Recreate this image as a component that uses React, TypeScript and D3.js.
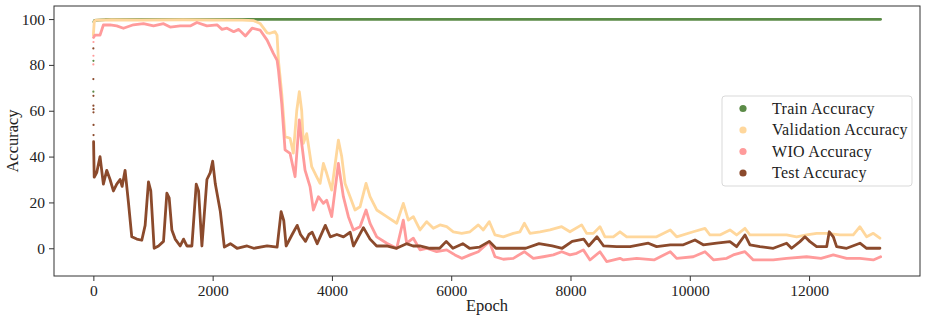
import React from "react";
import * as d3 from "d3";

// epochs shown on the axes
const xTicks = [0, 2000, 4000, 6000, 8000, 10000, 12000];
const yTicks = [0, 20, 40, 60, 80, 100];

const seriesNames = ["Train Accuracy", "Validation Accuracy", "WIO Accuracy", "Test Accuracy"];
const seriesColors = ["#5b8b47", "#ffd79c", "#ff9b9b", "#8b4a2c"];

// [epoch, accuracy]
const trainAcc: [number, number][] = [
  [8, 98.8], [20, 99.4], [200, 99.8], [1000, 99.9], [4000, 99.9], [13200, 99.9],
];

const validationAcc: [number, number][] = [
  [0, 93], [15, 99], [40, 99.5], [300, 99.7], [800, 99.6], [1500, 99.7], [2000, 99.6],
  [2500, 99.5], [2689, 99.3], [2795, 98.1], [2913, 94], [2962, 93.8], [3046, 94.5],
  [3080, 93], [3103, 82], [3158, 67.6], [3214, 48.7], [3298, 48], [3353, 41.5], [3410, 60],
  [3453, 68.3], [3493, 60], [3521, 45.8], [3577, 50], [3661, 35.6], [3745, 31.2],
  [3801, 28.3], [3857, 37], [3912, 32.7], [3996, 25.4], [4108, 47.2], [4164, 40],
  [4220, 28.3], [4304, 22.5], [4387, 16.7], [4471, 18.1], [4572, 28.3], [4639, 22.5],
  [4751, 16.7], [4919, 13.8], [5086, 10.9], [5197, 19.6], [5281, 12.3], [5365, 13.8],
  [5477, 8], [5589, 11.6], [5700, 8.7], [5812, 10.2], [5924, 9.4], [6035, 7.2], [6176, 6.5],
  [6315, 7.2], [6454, 10.2], [6538, 8], [6639, 11.6], [6734, 5.8], [6874, 5], [7041, 6.5],
  [7153, 7.2], [7226, 10.9], [7321, 6.5], [7489, 7.2], [7656, 8], [7852, 9.4], [7991, 7.2],
  [8187, 10.2], [8271, 6.5], [8383, 6.5], [8494, 9.4], [8578, 5], [8718, 5], [8830, 7.2],
  [8942, 5], [9221, 5], [9444, 5], [9673, 8], [9780, 5], [10058, 7.2], [10255, 8.7],
  [10338, 5.8], [10505, 5.8], [10673, 8], [10785, 5.8], [10925, 8.7], [11009, 5.8],
  [11344, 5.8], [11623, 5.8], [11791, 5], [11959, 5.8], [12127, 6.5], [12295, 6.5],
  [12518, 5.8], [12741, 5.8], [12853, 9.4], [12965, 5], [13077, 6.5], [13188, 4.4],
];

const wioAcc: [number, number][] = [
  [3, 92], [28, 93], [112, 93], [168, 97.4], [280, 97.5], [392, 97], [504, 96], [672, 97.5],
  [840, 98], [1008, 97], [1176, 98], [1288, 96.5], [1456, 97], [1624, 97], [1736, 98.5],
  [1904, 97], [2073, 97.5], [2157, 95.5], [2241, 96], [2353, 94.5], [2437, 95.5],
  [2549, 92.6], [2661, 96], [2795, 95.2], [2913, 90.8], [3018, 85], [3081, 82], [3103, 77.8],
  [3158, 63.2], [3214, 42.9], [3298, 41.4], [3382, 31.2], [3453, 56], [3493, 45.8],
  [3549, 34.1], [3633, 26.9], [3689, 16.7], [3773, 22.5], [3857, 19.6], [3912, 21],
  [3996, 13.8], [4108, 37], [4192, 22.5], [4276, 13.8], [4360, 8], [4471, 9.4], [4572, 16.7],
  [4639, 10.9], [4751, 5], [4919, 2.2], [5086, 0], [5197, 12.3], [5253, 2.2], [5365, 4.4],
  [5477, -0.7], [5589, 0], [5756, -1.5], [5924, -0.7], [6063, -2.9], [6176, -4.4],
  [6315, -2.9], [6454, -1.5], [6639, 2.9], [6734, -3.7], [6874, -4.8], [7041, -4.4],
  [7226, -1.5], [7377, -4.4], [7544, -3.7], [7712, -2.9], [7852, -1.5], [7991, -2.9],
  [8103, -2.2], [8215, -0.7], [8327, -5.1], [8494, -1.5], [8606, -5.8], [8830, -4.4],
  [8886, -5.1], [9110, -4.4], [9400, -5.1], [9673, -1.5], [9780, -4.4], [10058, -3.7],
  [10255, -1.5], [10400, -5.1], [10619, -4.4], [10729, -2.9], [10925, -1.5], [11065, -5.1],
  [11400, -5.1], [11623, -4.4], [11959, -3.7], [12200, -4.4], [12406, -2.9], [12630, -4.4],
  [12853, -4.4], [13077, -5.1], [13200, -3.7],
];

const testAcc: [number, number][] = [
  [4, 46.5], [6, 43], [8, 40], [14, 31], [56, 33], [112, 40], [168, 28], [224, 34], [280, 30],
  [336, 25], [392, 28], [448, 30], [482, 27], [532, 34], [588, 20], [644, 5], [728, 4],
  [812, 3.5], [868, 10], [924, 29], [963, 25], [1019, 0], [1092, 1], [1176, 3], [1232, 24],
  [1271, 22], [1316, 8], [1372, 4], [1456, 1], [1512, 4], [1568, 1], [1652, 1], [1725, 28],
  [1764, 25], [1820, 1], [1904, 30], [1960, 33], [2000, 38], [2045, 28], [2129, 16],
  [2196, 0.5], [2297, 2], [2409, 0], [2577, 1], [2689, 0], [2913, 1], [3081, 0.5],
  [3148, 16], [3193, 12], [3232, 1], [3333, 6], [3417, 10], [3473, 6], [3557, 3], [3613, 6],
  [3669, 7], [3753, 2], [3889, 10], [3972, 5], [4083, 6], [4194, 5], [4306, 7], [4361, 1],
  [4528, 9], [4639, 4], [4750, 1], [4917, 1], [5083, 0], [5250, 2], [5361, 1], [5472, 1],
  [5639, 0], [5806, 0], [5917, 3], [6028, 0], [6194, 2], [6306, 0], [6472, 0.5], [6639, 3],
  [6750, 0], [6917, 0], [7250, 0], [7472, 2], [7694, 1], [7861, 0], [8028, 3], [8222, 4],
  [8306, 1], [8444, 5], [8556, 1], [8774, 0.7], [9000, 0.7], [9305, 2.2], [9444, 0.7],
  [9673, 1.5], [9892, 1.5], [10087, 3.6], [10226, 1.5], [10450, 2.2], [10673, 2.9],
  [10785, 0.7], [10925, 5.8], [11009, 1.5], [11176, 0.7], [11400, 0], [11623, 2.2],
  [11707, 0], [11847, 2.9], [11931, 5], [12015, 2.9], [12127, 0.7], [12295, 0.7],
  [12339, 7.2], [12406, 5], [12462, 0.7], [12630, 0], [12853, 2.2], [12965, 0], [13188, 0],
];

// first few epochs, scattered dots before the curves settle
const trainWarmup: [number, number][] = [[0, 68.3], [1, 81.8]];
const wioWarmup: [number, number][] = [[0, 80.2], [1, 84], [2, 90]];
const testWarmup: [number, number][] = [
  [0, 87.2], [0, 73.8], [1, 66.5], [1, 62.2], [2, 60.7], [2, 59.3], [3, 53.8], [3, 49.4],
];

const width = 927;
const height = 321;
const margin = { top: 6, right: 7, bottom: 45, left: 54 };
const font = "'Liberation Serif', 'DejaVu Serif', serif";

export default function App() {
  const ref = React.useRef<SVGSVGElement>(null);

  React.useEffect(() => {
    const svg = d3.select(ref.current);
    svg.selectAll("*").remove();

    const x = d3.scaleLinear([-660, 13860], [margin.left, width - margin.right]);
    const y = d3.scaleLinear([-12.1, 105.7], [height - margin.bottom, margin.top]);

    const line = d3.line<[number, number]>()
      .x(d => x(d[0]))
      .y(d => y(d[1]));

    const plot = svg.append("g");
    const all = [trainAcc, validationAcc, wioAcc, testAcc];
    all.forEach((s, i) => {
      plot.append("path")
        .attr("d", line(s))
        .attr("fill", "none")
        .attr("stroke", seriesColors[i])
        .attr("stroke-width", 2.8)
        .attr("stroke-linejoin", "round")
        .attr("stroke-linecap", "round");
    });

    const dots: [[number, number][], string][] = [
      [trainWarmup, seriesColors[0]],
      [wioWarmup, seriesColors[2]],
      [testWarmup, seriesColors[3]],
    ];
    dots.forEach(([pts, c]) => {
      plot.append("g").selectAll("circle")
        .data(pts)
        .join("circle")
          .attr("cx", d => x(d[0]))
          .attr("cy", d => y(d[1]))
          .attr("r", 1.1)
          .attr("fill", c);
    });

    // axes
    svg.append("g")
      .attr("transform", `translate(0,${height - margin.bottom})`)
      .call(d3.axisBottom(x).tickValues(xTicks).tickFormat(d3.format("d")).tickSize(5).tickPadding(4).tickSizeOuter(0))
      .call(g => g.select(".domain").remove())
      .call(g => g.selectAll("line").attr("stroke", "#333"))
      .call(g => g.selectAll("text").attr("font-family", font).attr("font-size", 15.5).attr("fill", "#222"));

    svg.append("g")
      .attr("transform", `translate(${margin.left},0)`)
      .call(d3.axisLeft(y).tickValues(yTicks).tickFormat(d3.format("d")).tickSize(5).tickPadding(4).tickSizeOuter(0))
      .call(g => g.select(".domain").remove())
      .call(g => g.selectAll("line").attr("stroke", "#333"))
      .call(g => g.selectAll("text").attr("font-family", font).attr("font-size", 15.5).attr("fill", "#222"));

    svg.append("rect")
      .attr("x", margin.left)
      .attr("y", margin.top)
      .attr("width", width - margin.left - margin.right)
      .attr("height", height - margin.top - margin.bottom)
      .attr("fill", "none")
      .attr("stroke", "#333")
      .attr("stroke-width", 1);

    svg.append("text")
      .attr("x", (margin.left + width - margin.right) / 2)
      .attr("y", 311)
      .attr("text-anchor", "middle")
      .attr("font-family", font)
      .attr("font-size", 16.5)
      .attr("fill", "#222")
      .text("Epoch");

    svg.append("text")
      .attr("transform", `translate(18,${(margin.top + height - margin.bottom) / 2}) rotate(-90)`)
      .attr("text-anchor", "middle")
      .attr("font-family", font)
      .attr("font-size", 16.5)
      .attr("fill", "#222")
      .text("Accuracy");

    // legend
    const lg = svg.append("g").attr("transform", "translate(722,96)");
    lg.append("rect")
      .attr("width", 190)
      .attr("height", 90)
      .attr("rx", 3)
      .attr("fill", "white")
      .attr("fill-opacity", 0.8)
      .attr("stroke", "#d9d9d9");
    seriesNames.forEach((name, i) => {
      const cy = 12.5 + i * 21.5;
      lg.append("circle").attr("cx", 21).attr("cy", cy).attr("r", 3.6).attr("fill", seriesColors[i]);
      lg.append("text")
        .attr("x", 50)
        .attr("y", cy + 5)
        .attr("font-family", font)
        .attr("font-size", 16)
        .attr("letter-spacing", 0.3)
        .attr("fill", "#222")
        .text(name);
    });
  }, []);

  return (
    <svg
      ref={ref}
      width={width}
      height={height}
      style={{ position: "absolute", left: 0, top: 0, background: "white" }}
    />
  );
}
